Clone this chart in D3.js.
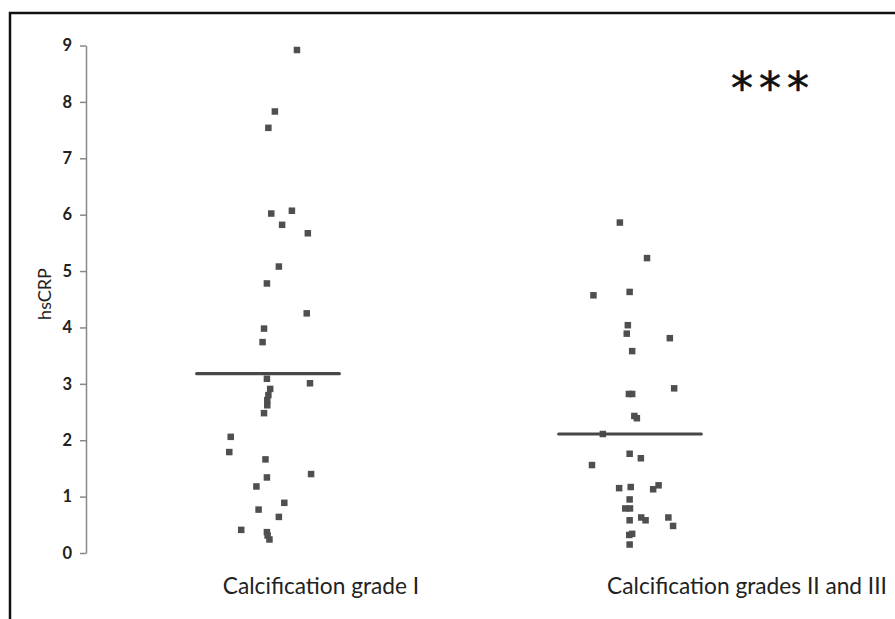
<!DOCTYPE html>
<html><head><meta charset="utf-8">
<script src="https://cdn.jsdelivr.net/npm/d3@7"></script>
<style>html,body{margin:0;padding:0;background:#fff;}</style>
</head><body>
<script>
const categories = ["Calcification grade I", "Calcification grades II and III"];
const yTicks = [0,1,2,3,4,5,6,7,8,9];
// group 1: hsCRP values and horizontal jitter (category units)
const grade1Values = [8.92,7.83,7.54,6.07,6.02,5.82,5.67,5.08,4.78,4.25,3.98,3.74,3.09,3.01,2.91,2.80,2.71,2.62,2.48,2.06,1.79,1.66,1.40,1.34,1.18,0.89,0.77,0.64,0.41,0.37,0.31,0.24];
const grade1X = [1.080,1.019,1.001,1.066,1.009,1.039,1.110,1.030,0.997,1.107,0.989,0.985,0.997,1.116,1.006,1.001,0.998,0.998,0.989,0.897,0.893,0.993,1.119,0.997,0.968,1.045,0.974,1.030,0.926,0.997,0.999,1.004];
const grade23Values = [5.86,5.23,4.57,4.63,4.04,3.89,3.81,3.58,2.92,2.82,2.82,2.43,2.39,2.11,1.76,1.68,1.56,1.15,1.17,1.13,1.20,0.95,0.79,0.79,0.58,0.63,0.58,0.63,0.48,0.32,0.34,0.15];
const grade23X = [1.972,2.047,1.899,1.999,1.994,1.991,2.110,2.006,2.122,1.997,2.006,2.012,2.019,1.925,1.999,2.030,1.895,1.970,2.002,2.064,2.079,1.999,1.987,2.000,1.999,2.031,2.043,2.106,2.119,1.998,2.006,1.999];
const means = [3.18, 2.11];
const significance = "***";

const W = 895, H = 619;
const svg = d3.select("body").append("svg").attr("width", W).attr("height", H);

// frame (left and top visible)
svg.append("rect").attr("x",10).attr("y",13).attr("width",W+20).attr("height",H+20)
  .attr("fill","none").attr("stroke","#111").attr("stroke-width",2.5);

const x = d3.scaleLinear().domain([0.5, 2.5]).range([87, 811]);
const y = d3.scaleLinear().domain([0, 9]).range([553, 45.5]);

// y axis
const yAxis = d3.axisLeft(y).tickValues(yTicks).tickSize(6).tickPadding(8).tickSizeOuter(0);
const ga = svg.append("g").attr("transform","translate(86,0)").call(yAxis);
ga.select(".domain").attr("stroke","#888").attr("stroke-width",1.5);
ga.selectAll(".tick line").attr("stroke","#888").attr("stroke-width",1.5);
ga.selectAll(".tick text").attr("fill","#222").style("font-family","Lato, 'Open Sans', sans-serif")
  .style("font-size","16.5px").style("font-weight","bold");

svg.append("text").attr("transform","translate(51,294) rotate(-90)")
  .attr("text-anchor","middle").attr("fill","#222")
  .style("font-family","Lato, 'Open Sans', sans-serif").style("font-size","18px").text("hsCRP");

// points
const pts = grade1Values.map((v,i)=>({x:grade1X[i], v}))
  .concat(grade23Values.map((v,i)=>({x:grade23X[i], v})));
const s = 6.5;
svg.append("g").selectAll("rect").data(pts).join("rect")
  .attr("x", d => x(d.x) - s/2).attr("y", d => y(d.v) - s/2)
  .attr("width", s).attr("height", s).attr("fill","#4f4f4f");

// mean lines
const halfW = 0.197;
svg.append("g").selectAll("line").data(means).join("line")
  .attr("x1",(d,i)=>x(i+1-halfW)).attr("x2",(d,i)=>x(i+1+halfW))
  .attr("y1",d=>y(d)).attr("y2",d=>y(d))
  .attr("stroke","#474747").attr("stroke-width",3.2).attr("stroke-linecap","round");

// category labels
const labelX = [321, 747];
svg.append("g").selectAll("text").data(categories).join("text")
  .attr("x",(d,i)=>labelX[i]).attr("y",594).attr("text-anchor","middle")
  .attr("fill","#222").style("font-family","Lato, 'Open Sans', sans-serif")
  .style("font-size","22.7px").text(d=>d);

// significance stars
svg.append("text").attr("x",773).attr("y",104).attr("text-anchor","middle")
  .attr("fill","#111").style("font-family","'DejaVu Sans', sans-serif")
  .style("font-size","44px").style("stroke","#111").style("stroke-width","0.6px")
  .style("letter-spacing","6px").text(significance);
</script>
</body></html>
